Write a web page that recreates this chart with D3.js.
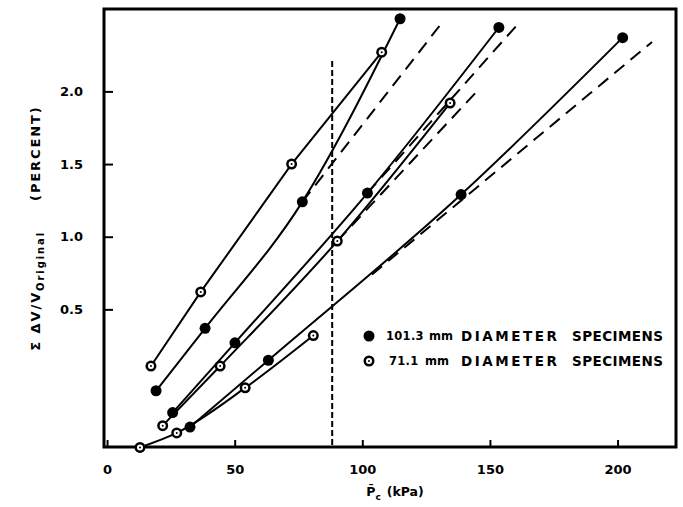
<!DOCTYPE html>
<html lang="en">
<head>
    <meta charset="UTF-8">
    <title>Volume change vs confining pressure</title>
    <script src="https://d3js.org/d3.v7.min.js"></script>
    <style>
        body {
            margin: 0;
            background: white;
            font-family: "DejaVu Sans", Arial, sans-serif;
        }
        .tick text {
            font-family: "DejaVu Sans", Arial, sans-serif;
            font-weight: bold;
            font-size: 13px;
            fill: black;
        }
        .tick line {
            stroke: black;
            stroke-width: 2;
        }
        .label {
            font-weight: bold;
            font-size: 12.5px;
            fill: black;
        }
        .legend-text {
            font-weight: bold;
            font-size: 13.5px;
            fill: black;
        }
    </style>
</head>
<body>

<svg id="chart" width="683" height="507"></svg>

<script>
    // tick values
    const xTicks = [0, 50, 100, 150, 200];
    const yTicks = [0.5, 1.0, 1.5, 2.0];

    // 71.1 mm specimens (open markers)
    const upperOpenP = [17.2, 36.7, 72.3, 107.6];
    const upperOpenV = [0.11, 0.62, 1.50, 2.27];
    const midOpenP = [21.8, 44.3, 90.2, 134.4];
    const midOpenV = [-0.30, 0.11, 0.97, 1.92];
    const lowOpenP = [12.9, 27.3, 54.1, 80.8];
    const lowOpenV = [-0.45, -0.35, -0.04, 0.32];

    // 101.3 mm specimens (filled markers)
    const upperFilledP = [19.2, 38.4, 76.5, 114.8];
    const upperFilledV = [-0.06, 0.37, 1.24, 2.50];
    const midFilledP = [25.7, 50.1, 102.0, 153.5];
    const midFilledV = [-0.21, 0.27, 1.30, 2.44];
    const lowFilledP = [32.5, 63.2, 138.7, 202.0];
    const lowFilledV = [-0.31, 0.15, 1.29, 2.37];

    // dashed straight-line extensions
    const trendStartP = [76.5, 90.2, 102.0, 103.8];
    const trendStartV = [1.24, 0.97, 1.30, 0.74];
    const trendEndP = [130.2, 145.4, 161.8, 213.5];
    const trendEndV = [2.45, 2.01, 2.48, 2.34];

    // vertical dashed line
    const pcLineP = 88.2;
    const pcLineTop = 2.21;

    const legendSizes = ["101.3", "71.1"];
    const legendWords = ["DIAMETER", "SPECIMENS"];

    const svg = d3.select("#chart");

    const x = d3.scaleLinear().domain([-1.2, 222.9]).range([104, 676]);
    const y = d3.scaleLinear().domain([-0.447, 2.567]).range([447, 9]);

    const zip = (ps, vs) => ps.map((p, i) => [p, vs[i]]);

    const openSeries = [zip(upperOpenP, upperOpenV), zip(midOpenP, midOpenV), zip(lowOpenP, lowOpenV)];
    const filledSeries = [zip(upperFilledP, upperFilledV), zip(midFilledP, midFilledV), zip(lowFilledP, lowFilledV)];

    // axes (ticks point inward)
    svg.append("g")
        .attr("transform", `translate(0,${y.range()[0]})`)
        .call(d3.axisBottom(x).tickValues(xTicks).tickSize(-7).tickPadding(18).tickFormat(d3.format("d")))
        .call(g => g.select(".domain").remove());

    svg.append("g")
        .attr("transform", `translate(${x.range()[0]},0)`)
        .call(d3.axisLeft(y).tickValues(yTicks).tickSize(-9).tickPadding(21).tickFormat(d3.format(".1f")))
        .call(g => g.select(".domain").remove());

    // frame
    svg.append("rect")
        .attr("x", x.range()[0])
        .attr("y", y.range()[1])
        .attr("width", x.range()[1] - x.range()[0])
        .attr("height", y.range()[0] - y.range()[1])
        .attr("fill", "none")
        .attr("stroke", "black")
        .attr("stroke-width", 3);

    // vertical dashed line
    svg.append("line")
        .attr("x1", x(pcLineP)).attr("x2", x(pcLineP))
        .attr("y1", y(pcLineTop)).attr("y2", y.range()[0])
        .attr("stroke", "black")
        .attr("stroke-width", 2)
        .attr("stroke-dasharray", "6,3");

    // dashed extensions
    trendStartP.forEach((p, i) => {
        svg.append("line")
            .attr("x1", x(p)).attr("y1", y(trendStartV[i]))
            .attr("x2", x(trendEndP[i])).attr("y2", y(trendEndV[i]))
            .attr("stroke", "black")
            .attr("stroke-width", 2)
            .attr("stroke-dasharray", "13,8");
    });

    const curved = d3.line()
        .x(d => x(d[0]))
        .y(d => y(d[1]))
        .curve(d3.curveMonotoneX);
    const straight = d3.line()
        .x(d => x(d[0]))
        .y(d => y(d[1]));

    // upper 71.1 mm run is a straight line, the rest bend upward
    openSeries.concat(filledSeries).forEach((s, i) => {
        svg.append("path")
            .datum(s)
            .attr("fill", "none")
            .attr("stroke", "black")
            .attr("stroke-width", 2)
            .attr("d", i === 0 ? straight : curved);
    });

    function drawFilled(g, cx, cy) {
        g.append("circle").attr("cx", cx).attr("cy", cy).attr("r", 5.5).attr("fill", "black");
    }
    function drawOpen(g, cx, cy) {
        g.append("circle").attr("cx", cx).attr("cy", cy).attr("r", 5.5).attr("fill", "black");
        g.append("circle").attr("cx", cx).attr("cy", cy).attr("r", 3).attr("fill", "white");
        g.append("circle").attr("cx", cx).attr("cy", cy).attr("r", 1).attr("fill", "black");
    }

    const marks = svg.append("g");
    filledSeries.forEach(s => s.forEach(d => drawFilled(marks, x(d[0]), y(d[1]))));
    openSeries.forEach(s => s.forEach(d => drawOpen(marks, x(d[0]), y(d[1]))));

    // legend, word columns
    const legend = svg.append("g").attr("transform", "translate(369,336)");
    drawFilled(legend, 0, 0);
    drawOpen(legend, 0, 25);
    const colX = [92, 203];
    const colW = [96, 91];
    legendSizes.forEach((s, i) => {
        legend.append("text")
            .attr("class", "legend-text")
            .attr("x", i === 0 ? 17 : 20)
            .attr("y", i * 25)
            .attr("dy", "0.36em")
            .style("font-size", "11.5px")
            .style("letter-spacing", "0.3px")
            .text(s);
        legend.append("text")
            .attr("class", "legend-text")
            .attr("x", i === 0 ? 60 : 56)
            .attr("y", i * 25)
            .attr("dy", "0.36em")
            .style("font-size", "11.5px")
            .text("mm");
        legendWords.forEach((w, j) => {
            legend.append("text")
                .attr("class", "legend-text")
                .attr("x", colX[j])
                .attr("y", i * 25)
                .attr("dy", "0.36em")
                .attr("textLength", colW[j])
                .attr("lengthAdjust", "spacing")
                .text(w);
        });
    });

    // x axis title
    const xt = svg.append("text")
        .attr("class", "label")
        .attr("x", 395)
        .attr("y", 496)
        .attr("text-anchor", "middle");
    xt.append("tspan").text("P\u0304");
    xt.append("tspan").style("font-size", "9px").attr("dy", 4).text("c");
    xt.append("tspan").attr("dy", -4).attr("dx", 6).text("(kPa)");

    // y axis title
    const yt = svg.append("text")
        .attr("class", "label")
        .attr("transform", "translate(40,228) rotate(-90)")
        .attr("text-anchor", "middle")
        .style("font-size", "13px")
        .style("letter-spacing", "1.9px");
    yt.append("tspan").text("\u03A3 \u0394V/V");
    yt.append("tspan").style("font-size", "10px").attr("dy", 4).text("Original");
    yt.append("tspan").attr("dy", -4).attr("dx", 30).text("(PERCENT)");
</script>

</body>
</html>
